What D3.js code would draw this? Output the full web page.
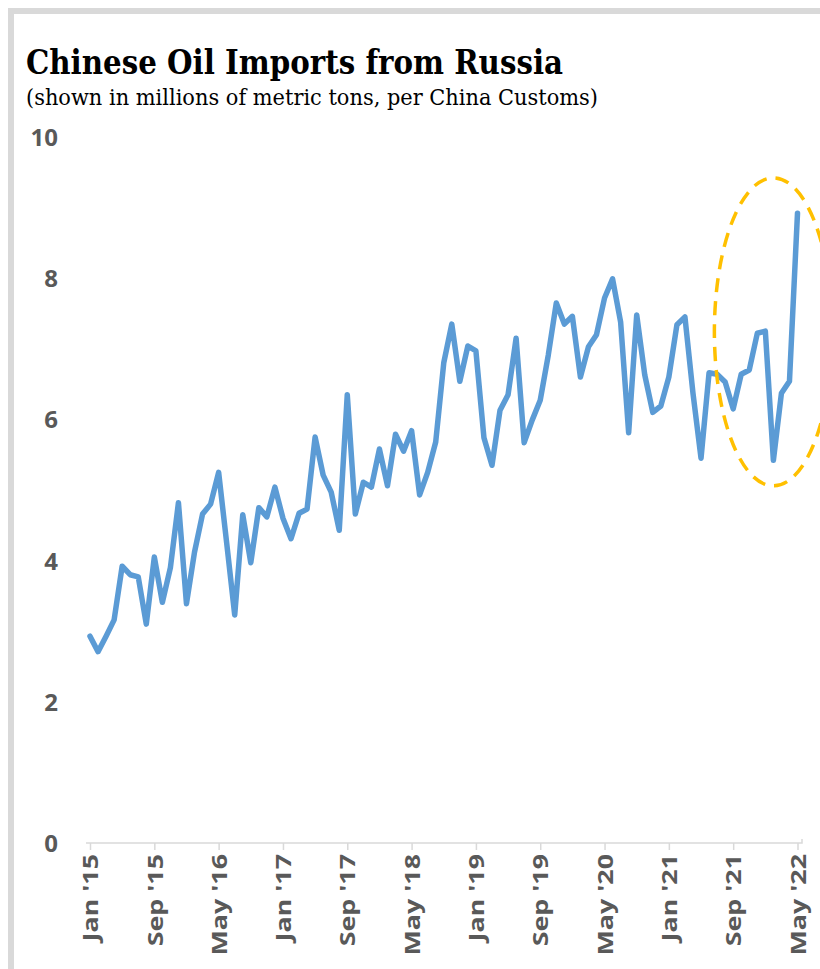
<!DOCTYPE html>
<html>
<head>
<meta charset="utf-8">
<script src="https://cdn.jsdelivr.net/npm/d3@7"></script>
<style>
  html, body { margin: 0; padding: 0; background: #fff; }
  svg { display: block; }
</style>
</head>
<body>
<div id="chart"></div>
<script>
// monthly series, Jan 2015 .. May 2022
const monthNames = ["Jan","Feb","Mar","Apr","May","Jun","Jul","Aug","Sep","Oct","Nov","Dec"];
const startYear = 2015;
const imports = [
  2.93, 2.71, 2.93, 3.16, 3.92, 3.80, 3.77, 3.10, 4.05, 3.41, 3.90, 4.82,
  3.39, 4.12, 4.66, 4.80, 5.25, 4.25, 3.23, 4.65, 3.97, 4.75, 4.62, 5.04,
  4.60, 4.31, 4.67, 4.73, 5.75, 5.21, 4.97, 4.43, 6.35, 4.66, 5.11, 5.04,
  5.58, 5.06, 5.79, 5.55, 5.84, 4.93, 5.25, 5.68, 6.80, 7.35, 6.54, 7.04,
  6.97, 5.74, 5.35, 6.13, 6.35, 7.15, 5.67, 5.99, 6.27, 6.91, 7.65, 7.35,
  7.46, 6.60, 7.03, 7.20, 7.72, 7.99, 7.38, 5.81, 7.48, 6.63, 6.10, 6.19,
  6.60, 7.34, 7.45, 6.37, 5.45, 6.66, 6.64, 6.53, 6.15, 6.64, 6.70, 7.22,
  7.25, 5.42, 6.37, 6.54, 8.92
];
const months = imports.map((v, i) =>
  monthNames[i % 12] + " '" + String((startYear + Math.floor(i / 12)) % 100).padStart(2, "0"));
const tickLabels = months.filter((m, i) => i % 8 === 0);
const yTicks = [0, 2, 4, 6, 8, 10];

const width = 820, height = 969;

const svg = d3.select("#chart").append("svg")
  .attr("width", width)
  .attr("height", height);

// grey frame (runs off the right and bottom edges)
svg.append("rect")
  .attr("x", 11).attr("y", 11)
  .attr("width", 900).attr("height", 1000)
  .attr("fill", "none")
  .attr("stroke", "#d9d9d9")
  .attr("stroke-width", 6);

svg.append("text")
  .attr("x", 26).attr("y", 74)
  .attr("font-family", "'DejaVu Serif', serif")
  .attr("font-weight", "bold")
  .attr("font-size", 33)
  .attr("textLength", 537)
  .attr("lengthAdjust", "spacingAndGlyphs")
  .attr("fill", "#000")
  .text("Chinese Oil Imports from Russia");

svg.append("text")
  .attr("x", 26).attr("y", 105)
  .attr("font-family", "'DejaVu Serif', serif")
  .attr("font-size", 23)
  .attr("textLength", 572)
  .attr("lengthAdjust", "spacingAndGlyphs")
  .attr("fill", "#000")
  .text("(shown in millions of metric tons, per China Customs)");

const x = d3.scalePoint()
  .domain(months)
  .range([90, 797.5]);

const y = d3.scaleLinear()
  .domain([0, 10])
  .range([843, 137]);

// y axis: labels only
const yAxis = svg.append("g")
  .attr("transform", "translate(58,0)")
  .call(d3.axisLeft(y).tickValues(yTicks).tickSize(0).tickPadding(0).tickFormat(d3.format("d")));
yAxis.select(".domain").remove();
yAxis.selectAll("text")
  .attr("font-family", "'Open Sans', sans-serif")
  .attr("font-weight", "bold")
  .attr("font-size", 24)
  .attr("fill", "#595959")
  .attr("dy", "0.35em");

// x axis
const xAxis = svg.append("g")
  .attr("transform", "translate(0," + y(0) + ")")
  .call(d3.axisBottom(x).tickValues(tickLabels).tickSize(7).tickSizeOuter(0).tickPadding(8));
xAxis.select(".domain")
  .attr("d", "M86,0H802V-4")
  .attr("stroke", "#d9d9d9")
  .attr("stroke-width", 1.5);
xAxis.selectAll(".tick line")
  .attr("stroke", "#d9d9d9")
  .attr("stroke-width", 1.5);
xAxis.selectAll("text")
  .attr("font-family", "'Open Sans', sans-serif")
  .attr("font-weight", "bold")
  .attr("font-size", 22)
  .attr("fill", "#595959")
  .attr("text-anchor", "end")
  .attr("transform", "rotate(-90) scale(1.22,1)")
  .attr("x", -9)
  .attr("y", 0)
  .attr("dy", "0.35em");

// series line
const line = d3.line()
  .x((d, i) => x(months[i]))
  .y(d => y(d));

svg.append("path")
  .datum(imports)
  .attr("d", line)
  .attr("fill", "none")
  .attr("stroke", "#5b9bd5")
  .attr("stroke-width", 5.5)
  .attr("stroke-linejoin", "round")
  .attr("stroke-linecap", "round");

// dashed highlight around the latest months
svg.append("ellipse")
  .attr("cx", x(months[85]))
  .attr("cy", y(7.24))
  .attr("rx", 59)
  .attr("ry", 154)
  .attr("fill", "none")
  .attr("stroke", "#ffc000")
  .attr("stroke-width", 3.5)
  .attr("stroke-dasharray", "14 9");
</script>
</body>
</html>
